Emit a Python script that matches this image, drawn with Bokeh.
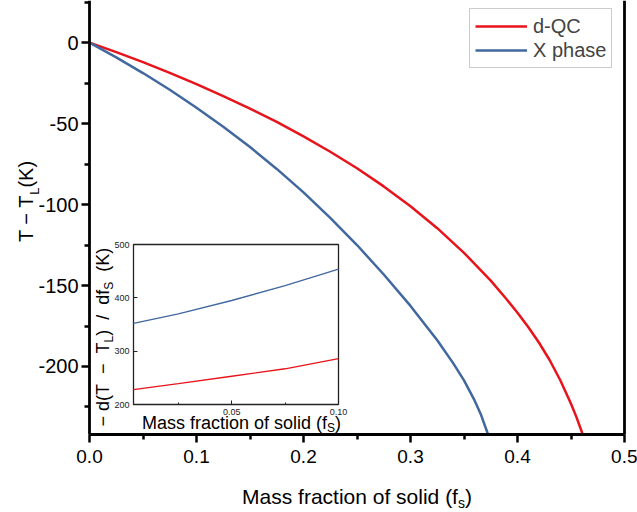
from bokeh.plotting import figure
from bokeh.models import (Range1d, LinearAxis, FixedTicker, Label,
                          Legend, LegendItem)
from bokeh.embed import file_html
from bokeh.resources import INLINE

# ---------------- data ----------------
fs_dqc = [0.0, 0.025, 0.05, 0.075, 0.10, 0.125, 0.15, 0.175, 0.20, 0.225,
          0.25, 0.275, 0.30, 0.325, 0.35, 0.375, 0.39, 0.40, 0.41, 0.42,
          0.43, 0.44, 0.45, 0.455, 0.461]
dT_dqc = [0.0, -5.9, -12.1, -18.7, -25.6, -33.0, -40.8, -49.0, -57.9, -67.4,
          -77.6, -88.8, -101.0, -114.6, -129.8, -147.0, -158.6, -166.8, -175.6, -185.2,
          -196.0, -208.5, -223.0, -231.1, -242.0]

fs_x = [0.0, 0.025, 0.05, 0.075, 0.10, 0.125, 0.15, 0.175, 0.20, 0.225,
        0.25, 0.275, 0.30, 0.325, 0.34, 0.35, 0.36, 0.366, 0.3725]
dT_x = [0.0, -9.1, -18.8, -29.1, -40.2, -52.0, -64.5, -78.0, -92.5, -108.2,
        -125.0, -143.2, -162.6, -183.8, -198.1, -208.6, -221.1, -230.0, -242.0]

inset_fs = [0.004, 0.025, 0.05, 0.075, 0.10]
inset_dqc = [228, 239, 253, 267, 286]
inset_x = [352, 370, 395, 423, 454]

x_ticks = [0.0, 0.1, 0.2, 0.3, 0.4, 0.5]
x_tick_labels = ["0.0", "0.1", "0.2", "0.3", "0.4", "0.5"]
y_ticks = [0, -50, -100, -150, -200]
y_tick_labels = ["0", "-50", "-100", "-150", "-200"]
inset_x_ticks = [0.05, 0.10]
inset_x_tick_labels = ["0.05", "0.10"]
inset_y_ticks = [200, 300, 400, 500]
inset_y_tick_labels = ["200", "300", "400", "500"]

series_names = ["d-QC", "X phase"]

# ---------------- layout / style ----------------
W, H = 637, 512
FL, FR, FT, FB = 89, 624, 0, 434          # main plotting area (px)
XR = (0.0, 0.5)
YR = (-242.0, 26.0)
IL, IR, IT, IB = 133, 338, 244, 404       # inset area (px)
IXR = (0.004, 0.10)
IYR = (200.0, 500.0)
RED = "#e8141b"
BLUE = "#41689f"
FONT = "Liberation Sans"
NB = "\u00a0"
BASE_FIX = 0.33   # renderer places 'alphabetic' text ~0.33em past the anchor

CW = {" ": .278, NB: .278, "(": .333, ")": .333, "\u2212": .584, "-": .333,
      "/": .278, "T": .611, "L": .556, "K": .667, "S": .667, "M": .833,
      "a": .556, "c": .5, "d": .556, "f": .278, "i": .222, "l": .222,
      "n": .556, "o": .556, "r": .333, "s": .5, "t": .278}


def tw(txt, size):
    return sum(CW.get(ch, .556) for ch in txt) * size


kx = (XR[1] - XR[0]) / (FR - FL)
ky = (YR[1] - YR[0]) / (FB - FT)


def px2x(px):
    return XR[0] + (px - FL) * kx


def py2y(py):
    return YR[1] - (py - FT) * ky


# the frame covers the whole canvas; axes are placed with fixed_location
p = figure(width=W, height=H,
           x_range=Range1d(px2x(0), px2x(W)), y_range=Range1d(py2y(H), py2y(0)),
           x_axis_location=None, y_axis_location=None,
           output_backend="svg", toolbar_location=None, min_border=0)
p.grid.visible = False
p.outline_line_color = None
p.background_fill_color = "white"
p.border_fill_color = "white"

# inset ranges mapped onto the inset rectangle
sx = (IXR[1] - IXR[0]) / (IR - IL)
sy = (IYR[1] - IYR[0]) / (IB - IT)
p.extra_x_ranges = {"ix": Range1d(IXR[0] - IL * sx, IXR[1] + (W - IR) * sx)}
p.extra_y_ranges = {"iy": Range1d(IYR[0] - (H - IB) * sy, IYR[1] + IT * sy)}

# main curves
r1 = p.line(fs_dqc, dT_dqc, line_color=RED, line_width=2.5)
r2 = p.line(fs_x, dT_x, line_color=BLUE, line_width=2.5)

# main axes
minor_x = [(a + b) / 2 for a, b in zip(x_ticks[:-1], x_ticks[1:])]
minor_y = [t + 25 for t in y_ticks] + [y_ticks[-1] - 25]
xax = LinearAxis(fixed_location=YR[0], bounds=XR,
                 ticker=FixedTicker(ticks=x_ticks, minor_ticks=minor_x))
yax = LinearAxis(fixed_location=XR[0], bounds=YR,
                 ticker=FixedTicker(ticks=y_ticks, minor_ticks=minor_y))
rax = LinearAxis(fixed_location=XR[1], bounds=YR,
                 ticker=FixedTicker(ticks=[], minor_ticks=[]))
for ax in (xax, yax, rax):
    ax.axis_line_width = 2.8
    ax.axis_line_color = "black"
    ax.major_tick_line_width = 2.5
    ax.minor_tick_line_width = 2.5
    ax.major_tick_in = 0
    ax.major_tick_out = 8
    ax.minor_tick_in = 0
    ax.minor_tick_out = 5
    ax.major_label_text_font = FONT
    ax.major_label_text_color = "black"
xax.major_label_overrides = dict(zip(x_ticks, x_tick_labels))
xax.major_label_text_font_size = "19px"
xax.major_label_standoff = 7
yax.major_label_overrides = dict(zip(y_ticks, y_tick_labels))
yax.major_label_text_font_size = "20px"
yax.major_label_standoff = 3
rax.major_label_text_font_size = "0px"
p.add_layout(xax, "below")
p.add_layout(yax, "left")
p.add_layout(rax, "right")

# inset background + frame
p.quad(left=IXR[0], right=IXR[1], bottom=IYR[0], top=IYR[1],
       x_range_name="ix", y_range_name="iy",
       fill_color="white", line_color="#222222", line_width=1.3)
p.line(inset_fs, inset_dqc, x_range_name="ix", y_range_name="iy",
       line_color=RED, line_width=1.3)
p.line(inset_fs, inset_x, x_range_name="ix", y_range_name="iy",
       line_color=BLUE, line_width=1.3)

iax = LinearAxis(x_range_name="ix", y_range_name="iy", fixed_location=IYR[0],
                 bounds=IXR,
                 ticker=FixedTicker(ticks=inset_x_ticks, minor_ticks=[0.025, 0.075]))
iay = LinearAxis(x_range_name="ix", y_range_name="iy", fixed_location=IXR[0],
                 bounds=IYR, ticker=FixedTicker(ticks=inset_y_ticks, minor_ticks=[]))
iax.major_label_overrides = dict(zip(inset_x_ticks, inset_x_tick_labels))
iay.major_label_overrides = dict(zip(inset_y_ticks, inset_y_tick_labels))
for ax in (iax, iay):
    ax.axis_line_color = None
    ax.major_tick_in = 4
    ax.major_tick_out = 0
    ax.minor_tick_in = 2
    ax.minor_tick_out = 0
    ax.major_tick_line_color = "#222222"
    ax.minor_tick_line_color = "#222222"
    ax.major_label_text_font = FONT
    ax.major_label_text_font_size = "9px"
    ax.major_label_text_color = "#222222"
    ax.major_label_standoff = 4
p.add_layout(iax, "below")
p.add_layout(iay, "left")


# ---------------- text runs (titles with subscripts) ----------------
def runs(parts, start, base, rotated, color="black"):
    pos = start
    for txt, size, shift in parts:
        b = base + shift
        if rotated:
            b -= BASE_FIX * size
            lab = Label(x=px2x(b), y=py2y(pos), text=txt, angle=1.5707963,
                        text_font=FONT, text_font_size=f"{size}px",
                        text_align="left", text_baseline="alphabetic",
                        text_color=color)
            pos -= tw(txt, size)
        else:
            b -= BASE_FIX * size
            lab = Label(x=px2x(pos), y=py2y(b), text=txt,
                        text_font=FONT, text_font_size=f"{size}px",
                        text_align="left", text_baseline="alphabetic",
                        text_color=color)
            pos += tw(txt, size)
        p.add_layout(lab)


def total(parts):
    return sum(tw(t, s) for t, s, _ in parts)


xt = [("Mass fraction of solid (f", 21, 0), ("s", 14, 4), (")", 21, 0)]
runs(xt, (FL + FR) / 2 - total(xt) / 2, 503, False)

yt = [("T \u2212 T", 20, 0), ("L", 13, 6), ("(K)", 20, 0)]
runs(yt, 201 + total(yt) / 2, 32, True)

ixt = [("Mass fraction of solid (f", 18, 0), ("S", 12, 3), (")", 18, 0)]
runs(ixt, 241 - total(ixt) / 2, 428, False)

iyt = [("\u2212 d(T" + NB + " \u2212 " + NB + "T", 18, 0), ("L", 12, 4),
       (")" + NB + " / " + NB + "df", 18, 0), ("S", 12, 4), (NB + NB + "(K)", 18, 0)]
runs(iyt, 426, 108, True)

# legend
legend = Legend(items=[LegendItem(label=series_names[0], renderers=[r1]),
                       LegendItem(label=series_names[1], renderers=[r2])],
                location=(469, H - 68))
legend.border_line_color = "#999999"
legend.border_line_width = 1
legend.label_text_font = FONT
legend.label_text_font_size = "20px"
legend.glyph_width = 52
legend.glyph_height = 24
legend.label_height = 24
legend.label_standoff = 6
legend.spacing = 0
legend.padding = 5
legend.margin = 0
p.add_layout(legend)

open("out.html", "w").write(file_html(p, INLINE))
